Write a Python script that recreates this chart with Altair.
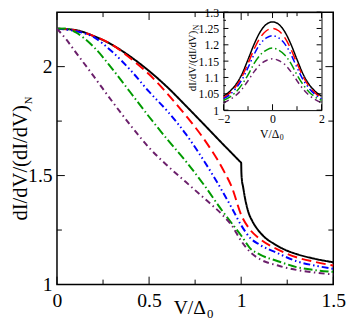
import altair as alt
import pandas as pd

FONT = "Liberation Serif"

SERIES = ["a", "b", "c", "d", "e"]
COLORS = ["#000000", "#ff0000", "#0000ff", "#009a00", "#6b1f6b"]
DASHES = [[1, 0], [10, 5], [7, 3, 1.5, 3, 1.5, 3], [9, 3, 1.5, 3], [6, 3.5, 1.5, 3.5]]

# ---- main panel curves ----
BLACK_X = [0, 0.1, 0.2, 0.3, 0.4, 0.5, 0.6, 0.7, 0.8, 0.9, 0.95, 0.99, 1.0, 1.001, 1.004, 1.01,
           1.02, 1.04, 1.06, 1.09, 1.13, 1.18, 1.25, 1.3, 1.4, 1.5]
BLACK_Y = [2.174, 2.168, 2.14, 2.10, 2.045, 1.98, 1.905, 1.82, 1.733, 1.645, 1.602, 1.567, 1.558,
           1.52, 1.48, 1.45, 1.40, 1.33, 1.292, 1.252, 1.215, 1.186, 1.155, 1.14, 1.118, 1.102]

CURVE_X = [0, 0.05, 0.1, 0.2, 0.3, 0.4, 0.5, 0.6, 0.7, 0.8, 0.9, 0.95, 1.0, 1.05, 1.1, 1.2, 1.3, 1.4, 1.5]
RED_Y = [2.174, 2.172, 2.166, 2.14, 2.10, 2.037, 1.965, 1.875, 1.775, 1.665, 1.53, 1.445, 1.32,
         1.25, 1.21, 1.16, 1.125, 1.104, 1.087]
BLUE_Y = [2.174, 2.17, 2.163, 2.135, 2.068, 1.983, 1.885, 1.795, 1.69, 1.565, 1.425, 1.35, 1.272,
          1.213, 1.183, 1.143, 1.107, 1.087, 1.072]
GREEN_Y = [2.174, 2.175, 2.158, 2.09, 1.99, 1.88, 1.77, 1.665, 1.565, 1.455, 1.335, 1.28, 1.225,
           1.165, 1.138, 1.107, 1.08, 1.066, 1.058]
PURPLE_Y = [2.174, 2.125, 2.068, 1.955, 1.84, 1.73, 1.628, 1.545, 1.47, 1.395, 1.318, 1.27, 1.2,
            1.148, 1.117, 1.087, 1.067, 1.055, 1.046]

# ---- inset curves ----
INSET_X = [-2, -1.75, -1.5, -1.25, -1, -0.75, -0.5, -0.25, 0, 0.25, 0.5, 0.75, 1, 1.25, 1.5, 1.75, 2]
INSET_BLACK = [1.043, 1.057, 1.078, 1.11, 1.155, 1.202, 1.24, 1.263, 1.27, 1.263, 1.24, 1.202, 1.155,
               1.11, 1.078, 1.057, 1.043]
INSET_RED = [1.038, 1.052, 1.072, 1.102, 1.143, 1.187, 1.222, 1.243, 1.25, 1.243, 1.222, 1.187, 1.143,
             1.102, 1.072, 1.052, 1.038]
INSET_BLUE = [1.035, 1.047, 1.066, 1.093, 1.13, 1.171, 1.203, 1.221, 1.228, 1.221, 1.203, 1.171, 1.13,
              1.093, 1.066, 1.047, 1.035]
INSET_GREEN = [1.03, 1.04, 1.055, 1.078, 1.108, 1.143, 1.169, 1.184, 1.19, 1.184, 1.169, 1.143, 1.108,
               1.078, 1.055, 1.04, 1.03]
INSET_PURPLE = [1.022, 1.032, 1.045, 1.064, 1.09, 1.118, 1.14, 1.152, 1.157, 1.152, 1.14, 1.118, 1.09,
                1.064, 1.045, 1.032, 1.022]

# ---- ticks ----
MX_MAJ = [0, 0.5, 1, 1.5]
MX_MIN = [0.25, 0.75, 1.25]
MY_MAJ = [1, 1.5, 2]
MY_MIN = [1.25, 1.75]
IX_MAJ = [-2, 0, 2]
IX_MIN = [-1, 1]
IY_MAJ = [1, 1.05, 1.1, 1.15, 1.2, 1.25, 1.3]
IY_MIN = [1.025, 1.075, 1.125, 1.175, 1.225, 1.275]


def frame(pairs):
    rows = []
    for name, xs, ys in pairs:
        for i, (xv, yv) in enumerate(zip(xs, ys)):
            rows.append({"s": name, "x": xv, "y": yv, "i": i})
    return pd.DataFrame(rows)


main_df = frame([
    ("a", BLACK_X, BLACK_Y), ("b", CURVE_X, RED_Y), ("c", CURVE_X, BLUE_Y),
    ("d", CURVE_X, GREEN_Y), ("e", CURVE_X, PURPLE_Y)])
inset_df = frame([
    ("a", INSET_X, INSET_BLACK), ("b", INSET_X, INSET_RED), ("c", INSET_X, INSET_BLUE),
    ("d", INSET_X, INSET_GREEN), ("e", INSET_X, INSET_PURPLE)])

W, H = 282, 278
IX0, IX1, IY0, IY1 = 170, 270, 0, 100

color = alt.Color("s:N", scale=alt.Scale(domain=SERIES, range=COLORS), legend=None)
dash = alt.StrokeDash("s:N", scale=alt.Scale(domain=SERIES, range=DASHES), legend=None)


def ax(orient, values, labels=False, offset=0, domain=False, fs=20, pad=0):
    kw = dict(orient=orient, values=values, title=None, grid=False, domain=domain,
              domainColor="black", domainWidth=1, offset=offset, labels=labels,
              ticks=False, tickSize=0)
    if labels:
        kw.update(format="~g", labelFont=FONT, labelFontSize=fs, labelColor="black",
                  labelPadding=pad, labelFlush=False, labelOverlap=False)
    return alt.Axis(**kw)


def mx():
    return alt.Scale(domain=[0, 1.5], nice=False, zero=False)


def my():
    return alt.Scale(domain=[1, 2.25], nice=False, zero=False)


def ix():
    return alt.Scale(domain=[-2, 2], range=[IX0, IX1], nice=False, zero=False)


def iy():
    return alt.Scale(domain=[1, 1.3], range=[IY1, IY0], nice=False, zero=False)


def xtick(vals, scale, y0, y1):
    return alt.Chart(pd.DataFrame({"v": vals})).mark_rule(color="black", strokeWidth=1).encode(
        x=alt.X("v:Q", scale=scale, axis=None), y=alt.value(y0), y2=alt.value(y1))


def ytick(vals, scale, x0, x1):
    return alt.Chart(pd.DataFrame({"v": vals})).mark_rule(color="black", strokeWidth=1).encode(
        y=alt.Y("v:Q", scale=scale, axis=None), x=alt.value(x0), x2=alt.value(x1))


main_lines = alt.Chart(main_df).mark_line(interpolate="monotone", strokeWidth=2).encode(
    x=alt.X("x:Q", scale=mx(), axis=ax("bottom", MX_MAJ, labels=True, pad=6)),
    y=alt.Y("y:Q", scale=my(), axis=ax("left", MY_MAJ, labels=True, pad=5)),
    color=color, strokeDash=dash, detail="s:N", order="i:Q")

MAJ, MIN = 8, 5
main_ticks = [
    xtick(MX_MAJ, mx(), H, H - MAJ), xtick(MX_MIN, mx(), H, H - MIN),
    xtick(MX_MAJ, mx(), 0, MAJ), xtick(MX_MIN, mx(), 0, MIN),
    ytick(MY_MAJ, my(), 0, MAJ), ytick(MY_MIN, my(), 0, MIN),
    ytick(MY_MAJ, my(), W, W - MAJ), ytick(MY_MIN, my(), W, W - MIN),
]

inset_lines = alt.Chart(inset_df).mark_line(interpolate="monotone", strokeWidth=1.5).encode(
    x=alt.X("x:Q", scale=ix(),
            axis=ax("bottom", IX_MAJ, labels=True, offset=-(H - IY1), domain=True, fs=12, pad=4)),
    y=alt.Y("y:Q", scale=iy(),
            axis=ax("left", IY_MAJ, labels=True, offset=-IX0, domain=True, fs=12, pad=5)),
    color=color, strokeDash=dash, detail="s:N", order="i:Q")

inset_border = alt.Chart(inset_df).mark_line(strokeOpacity=0).encode(
    x=alt.X("x:Q", scale=ix(), axis=ax("bottom", IX_MAJ, offset=-H, domain=True)),
    y=alt.Y("y:Q", scale=iy(), axis=ax("left", IY_MAJ, offset=-IX1, domain=True)),
    detail="s:N")

IMAJX, IMINX, IMAJY, IMINY = 6, 4, 5, 2.5
inset_ticks = [
    xtick(IX_MAJ, ix(), IY1, IY1 - IMAJX), xtick(IX_MIN, ix(), IY1, IY1 - IMINX),
    xtick(IX_MAJ, ix(), IY0, IY0 + IMAJX), xtick(IX_MIN, ix(), IY0, IY0 + IMINX),
    ytick(IY_MAJ, iy(), IX0, IX0 + IMAJY), ytick(IY_MIN, iy(), IX0, IX0 + IMINY),
    ytick(IY_MAJ, iy(), IX1, IX1 - IMAJY), ytick(IY_MIN, iy(), IX1, IX1 - IMINY),
]

one = pd.DataFrame({"k": [0]})


def label(text, x, y, size, align, angle=0, dx=0, dy=0):
    return alt.Chart(one).mark_text(
        text=text, font=FONT, fontSize=size, align=align, baseline="alphabetic",
        angle=angle, dx=dx, dy=dy, color="black").encode(x=alt.value(x), y=alt.value(y))


texts = [
    label("dI/dV/(dI/dV)", -31, 95, 21, "right", angle=270),
    label("N", -31, 95, 11, "left", angle=270, dx=1, dy=5),
    label("V/Δ", 152, H + 30, 20, "right"),
    label("0", 152, H + 34, 13, "left", dx=1),
    label("dI/dV/(dI/dV)", 142, 19, 11, "right", angle=270),
    label("N", 142, 19, 8, "left", angle=270, dx=0.5, dy=3),
    label("V/Δ", 227, 128, 12, "right"),
    label("0", 227, 131, 8, "left", dx=0.5),
]

chart = alt.layer(main_lines, *main_ticks, inset_lines, inset_border, *inset_ticks, *texts
                  ).resolve_scale(x="independent", y="independent").properties(
    width=W, height=H,
    autosize=alt.AutoSizeParams(type="none"),
    padding={"left": 50, "top": 1, "right": 13, "bottom": 34},
).configure_view(stroke="black", strokeWidth=1.5)

chart.save("out.html", embed_options={"renderer": "svg", "actions": False})
